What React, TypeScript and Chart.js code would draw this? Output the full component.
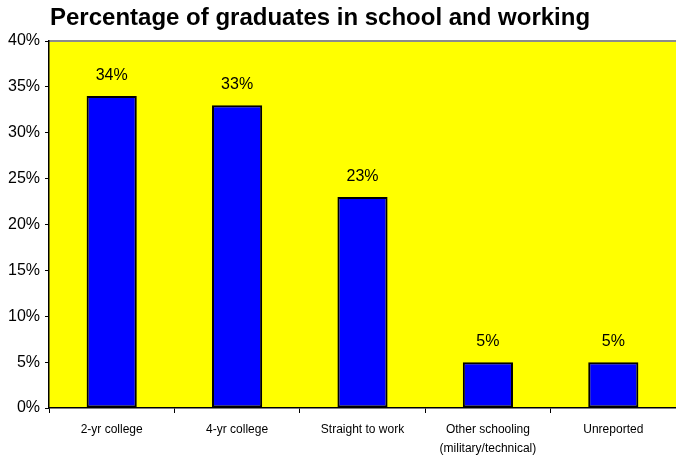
import React, { useEffect, useRef } from "react";
import { Chart, registerables } from "chart.js";

Chart.register(...registerables);

const TITLE = "Percentage of graduates in school and working";
const categories: (string | string[])[] = [
  "2-yr college",
  "4-yr college",
  "Straight to work",
  ["Other schooling", "(military/technical)"],
  "Unreported",
];
const values = [34, 33, 23, 5, 5];
const yTicks = { min: 0, max: 40, step: 5 };

const FONT = '"Liberation Sans", Arial, Helvetica, sans-serif';

const bgPlugin = {
  id: "bgPlugin",
  beforeDraw(chart: any) {
    const { ctx, chartArea } = chart;
    ctx.save();
    ctx.fillStyle = "#FFFF00";
    ctx.fillRect(chartArea.left, chartArea.top, chartArea.right - chartArea.left, chartArea.bottom - chartArea.top);
    ctx.strokeStyle = "#8c8c8c";
    ctx.lineWidth = 2;
    ctx.beginPath();
    ctx.moveTo(chartArea.left, chartArea.top);
    ctx.lineTo(chartArea.right, chartArea.top);
    ctx.stroke();
    // title
    ctx.fillStyle = "#000";
    ctx.font = `bold 24px ${FONT}`;
    ctx.textBaseline = "alphabetic";
    ctx.textAlign = "left";
    ctx.fillText(TITLE, chartArea.left + 1, 25);
    ctx.restore();
  },
};

const labelPlugin = {
  id: "labelPlugin",
  afterDatasetsDraw(chart: any) {
    const { ctx } = chart;
    const meta = chart.getDatasetMeta(0);
    ctx.save();
    ctx.fillStyle = "#000";
    ctx.font = `16px ${FONT}`;
    ctx.textAlign = "center";
    ctx.textBaseline = "alphabetic";
    meta.data.forEach((bar: any, i: number) => {
      ctx.fillText(values[i] + "%", bar.x, bar.y - 16);
    });
    ctx.restore();
  },
};

export default function App() {
  const ref = useRef<HTMLCanvasElement>(null);
  useEffect(() => {
    document.body.style.margin = "0";
    const chart = new Chart(ref.current!, {
      type: "bar",
      data: {
        labels: categories,
        datasets: [
          {
            data: values,
            backgroundColor: "#0000FF",
            borderColor: "#000000",
            borderWidth: 2,
            borderSkipped: false,
            categoryPercentage: 1,
            barPercentage: 0.4,
          },
        ],
      },
      options: {
        animation: false,
        responsive: false,
        layout: { padding: { top: 41, left: 0, right: 0, bottom: 0 } },
        plugins: {
          legend: { display: false },
          tooltip: { enabled: false },
          title: { display: false },
        },
        scales: {
          x: {
            afterFit: (s: any) => {
              s.height = 47;
            },
            grid: {
              offset: true,
              drawOnChartArea: false,
              tickLength: 5,
              color: "#000",
            },
            border: { display: true, color: "#000", width: 1.5 },
            ticks: {
              color: "#000",
              font: { family: FONT, size: 12, lineHeight: 1.6 },
              padding: 7,
              maxRotation: 0,
              autoSkip: false,
            },
          },
          y: {
            min: yTicks.min,
            max: yTicks.max,
            afterFit: (s: any) => {
              s.width = 49;
            },
            grid: {
              drawOnChartArea: false,
              tickLength: 4,
              color: "#000",
            },
            border: { display: true, color: "#000", width: 1.5 },
            ticks: {
              stepSize: yTicks.step,
              color: "#000",
              font: { family: FONT, size: 16 },
              padding: 5,
              callback: (v: any) => v + "%",
            },
          },
        },
      },
      plugins: [bgPlugin, labelPlugin],
    });
    return () => chart.destroy();
  }, []);
  return (
    <div style={{ width: 676, height: 455, background: "#fff" }}>
      <canvas ref={ref} width={676} height={455} />
    </div>
  );
}
